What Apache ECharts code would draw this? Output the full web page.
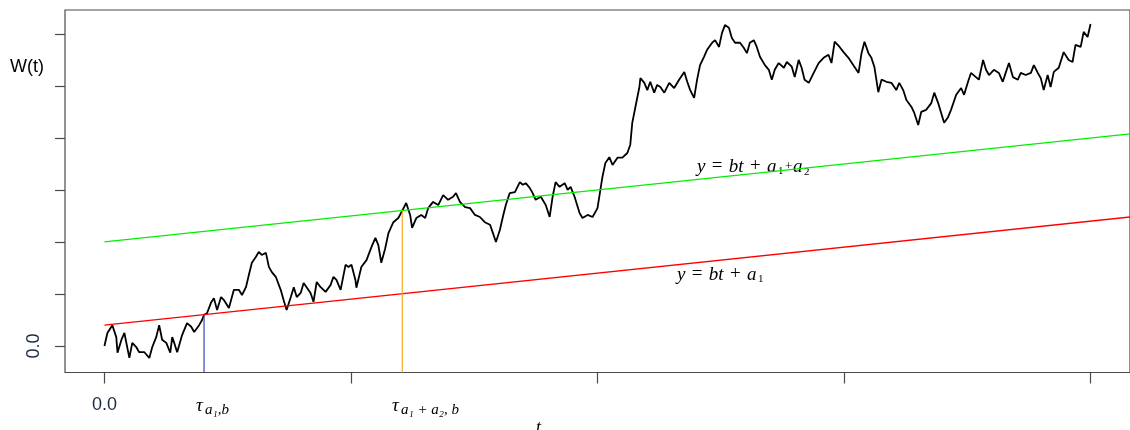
<!DOCTYPE html>
<html>
<head>
<meta charset="utf-8">
<script src="https://cdn.jsdelivr.net/npm/echarts@6/dist/echarts.min.js"></script>
<style>html,body{margin:0;padding:0;background:#fff;}#c{width:1130px;height:430px;}</style>
</head>
<body>
<div id="c"></div>
<script>
// Brownian path W(t)
const tVals = [0, 0.012, 0.032, 0.048, 0.053, 0.069, 0.081, 0.101, 0.113, 0.129, 0.141, 0.162, 0.182, 0.194, 0.210, 0.222, 0.234, 0.251, 0.267, 0.275, 0.283, 0.295, 0.315, 0.335, 0.352, 0.364, 0.384, 0.396, 0.404, 0.416, 0.432, 0.444, 0.457, 0.473, 0.485, 0.505, 0.525, 0.545, 0.558, 0.574, 0.586, 0.598, 0.614, 0.626, 0.638, 0.655, 0.667, 0.679, 0.695, 0.715, 0.727, 0.739, 0.756, 0.768, 0.780, 0.796, 0.808, 0.820, 0.836, 0.848, 0.861, 0.877, 0.897, 0.917, 0.929, 0.941, 0.958,
  0.978, 0.990, 1.002, 1.018, 1.022, 1.042, 1.063, 1.083, 1.099, 1.111, 1.123, 1.139, 1.152, 1.172, 1.192, 1.208, 1.224, 1.240, 1.248, 1.265, 1.285, 1.301, 1.313, 1.333, 1.354, 1.374, 1.394, 1.414, 1.426, 1.442, 1.463, 1.483, 1.503, 1.523, 1.543, 1.564, 1.576, 1.588, 1.604, 1.616, 1.628, 1.644, 1.665, 1.685, 1.697, 1.709, 1.725, 1.737, 1.749, 1.770, 1.790, 1.806, 1.818, 1.830, 1.846, 1.867, 1.879, 1.891, 1.907, 1.927, 1.939, 1.960, 1.980, 2.000,
  2.020, 2.032, 2.048, 2.061, 2.081, 2.101, 2.121, 2.133, 2.141, 2.154, 2.170, 2.174, 2.190, 2.202, 2.214, 2.230, 2.242, 2.255, 2.271, 2.291, 2.311, 2.331, 2.352, 2.364, 2.376, 2.392, 2.404, 2.416, 2.432, 2.444, 2.465, 2.477, 2.493, 2.505, 2.517, 2.533, 2.545, 2.558, 2.578, 2.594, 2.606, 2.618, 2.634, 2.646, 2.659, 2.679, 2.695, 2.707, 2.719, 2.735, 2.756, 2.768, 2.788, 2.800, 2.816, 2.828, 2.840, 2.857, 2.877, 2.897, 2.917, 2.937, 2.949, 2.962, 2.982, 2.998, 3.018,
  3.042, 3.059, 3.071, 3.083, 3.099, 3.111, 3.123, 3.139, 3.152, 3.172, 3.192, 3.212, 3.224, 3.240, 3.253, 3.273, 3.285, 3.301, 3.313, 3.333, 3.354, 3.366, 3.382, 3.394, 3.406, 3.422, 3.434, 3.455, 3.475, 3.487, 3.503, 3.515, 3.535, 3.547, 3.564, 3.576, 3.588, 3.608, 3.628, 3.644, 3.657, 3.669, 3.685, 3.705, 3.717, 3.737, 3.758, 3.770, 3.786, 3.798, 3.810, 3.826, 3.838, 3.851, 3.871, 3.891, 3.911, 3.927, 3.939, 3.960, 3.972, 3.988, 4.000];
const wVals = [0, 0.25, 0.40, 0.17, -0.13, 0.12, 0.25, -0.23, 0.06, -0.02, -0.12, -0.12, -0.23, -0.02, 0.17, 0.40, 0.12, 0.06, -0.13, 0.17, 0.06, -0.12, 0.21, 0.44, 0.37, 0.27, 0.40, 0.50, 0.60, 0.63, 0.83, 0.92, 0.69, 0.94, 0.88, 0.73, 1.08, 1.08, 0.98, 1.13, 1.37, 1.60, 1.71, 1.81, 1.75, 1.79, 1.52, 1.42, 1.33, 1.08, 0.88, 0.69, 0.94, 1.13, 0.94, 1.02, 1.21, 1.13, 1.02, 0.85, 1.23, 1.13, 1.04, 1.17, 1.33, 1.27, 1.08,
  1.56, 1.52, 1.56, 1.27, 1.12, 1.52, 1.65, 1.90, 2.08, 1.94, 1.60, 1.88, 2.17, 2.38, 2.46, 2.60, 2.75, 2.52, 2.27, 2.46, 2.52, 2.46, 2.65, 2.77, 2.71, 2.90, 2.81, 2.87, 2.94, 2.77, 2.67, 2.65, 2.52, 2.48, 2.38, 2.33, 2.17, 2.00, 2.23, 2.48, 2.71, 2.94, 2.96, 3.15, 3.10, 3.13, 3.04, 2.94, 2.81, 2.87, 2.71, 2.48, 2.87, 3.15, 3.06, 3.13, 3.00, 3.06, 2.87, 2.56, 2.46, 2.52, 2.48, 2.65,
  3.25, 3.52, 3.63, 3.48, 3.62, 3.62, 3.71, 3.87, 4.29, 4.60, 4.98, 5.15, 5.06, 4.92, 5.08, 4.87, 5.02, 4.98, 4.87, 5.06, 4.96, 5.12, 5.27, 5.08, 4.92, 4.77, 5.12, 5.40, 5.56, 5.69, 5.83, 5.88, 5.75, 6.02, 6.17, 6.12, 5.92, 5.83, 5.83, 5.73, 5.63, 5.83, 5.88, 5.75, 5.56, 5.40, 5.31, 5.12, 5.31, 5.44, 5.35, 5.46, 5.37, 5.17, 5.50, 5.35, 5.12, 5.06, 5.25, 5.44, 5.54, 5.60, 5.44, 5.85, 5.75, 5.65, 5.54,
  5.37, 5.25, 5.63, 5.85, 5.63, 5.54, 5.37, 4.88, 5.12, 5.08, 5.06, 4.92, 5.06, 4.92, 4.73, 4.60, 4.48, 4.25, 4.50, 4.54, 4.67, 4.87, 4.67, 4.48, 4.29, 4.40, 4.54, 4.83, 4.96, 4.83, 5.08, 5.25, 5.17, 5.12, 5.50, 5.31, 5.21, 5.31, 5.25, 5.08, 5.27, 5.44, 5.17, 5.12, 5.25, 5.21, 5.25, 5.40, 5.25, 5.15, 4.92, 5.21, 4.98, 5.27, 5.35, 5.65, 5.50, 5.46, 5.79, 5.75, 6.04, 5.94, 6.19];

// boundary lines y = b t + a
const slopeB = 0.5;
const levelA1 = 0.4;
const levelA1A2 = 2.0;
const lineT = [0, 4.3];
// hitting times
const tau1 = 0.404;
const tau2 = 1.208;
// axis ticks
const xTicks = [0, 1, 2, 3, 4];
const yTicks = [0, 1, 2, 3, 4, 5, 6];
const xLabelTicks = [0];
const yLabelTicks = [0];

const X_MIN = -0.16, X_MAX = 4.16, Y_MIN = -0.51, Y_MAX = 6.46;

const chart = echarts.init(document.getElementById('c'), null, {renderer: 'canvas'});
const path = tVals.map((t, i) => [t, wVals[i]]);
const redLine = lineT.map(t => [t, slopeB * t + levelA1]);
const greenLine = lineT.map(t => [t, slopeB * t + levelA1A2]);
const blueSeg = [[tau1, Y_MIN], [tau1, slopeB * tau1 + levelA1]];
const orangeSeg = [[tau2, Y_MIN], [tau2, slopeB * tau2 + levelA1A2]];

const serif = '"Liberation Serif", "DejaVu Serif", serif';
const sans = '"Liberation Sans", Arial, sans-serif';
const SP = '\u2004';

function lineSeries(data, color, width, z) {
  return {type: 'line', data, showSymbol: false, symbol: 'none', z,
    lineStyle: {color, width}, silent: true, animation: false};
}
function txt(x, y, text, font) {
  return {type: 'text', x, y, style: {text, font, fill: '#000'}};
}
const eqRich = {
  i: {fontFamily: serif, fontStyle: 'italic', fontSize: 19, color: '#000'},
  r: {fontFamily: serif, fontStyle: 'normal', fontSize: 19, color: '#000'}
};
function eq(x, y) {
  return {type: 'text', x, y, style: {
    text: '{i|y}{r|' + SP + '=' + SP + '}{i|bt}{r|' + SP + '+' + SP + '}{i|a}',
    rich: eqRich, fill: '#000'}};
}

chart.setOption({
  animation: false,
  backgroundColor: '#ffffff',
  grid: {left: 65, top: 10, right: -5, bottom: 57.5, show: true, borderColor: '#4a4a4a', borderWidth: 1.2, backgroundColor: 'transparent'},
  xAxis: {
    type: 'value', min: X_MIN, max: X_MAX,
    splitLine: {show: false}, axisLine: {show: false, onZero: false},
    axisTick: {show: true, customValues: xTicks, length: 11, inside: false, lineStyle: {color: '#4a4a4a', width: 1.2}},
    axisLabel: {customValues: xLabelTicks, formatter: v => v.toFixed(1), margin: 24, fontSize: 18, color: '#1b2a48', fontFamily: sans}
  },
  yAxis: {
    type: 'value', min: Y_MIN, max: Y_MAX,
    splitLine: {show: false}, axisLine: {show: false, onZero: false},
    axisTick: {show: true, customValues: yTicks, length: 10, inside: false, lineStyle: {color: '#4a4a4a', width: 1.2}},
    axisLabel: {customValues: yLabelTicks, formatter: v => v.toFixed(1), margin: 22, rotate: 90, fontSize: 18, color: '#1b2a48', fontFamily: sans}
  },
  series: [
    lineSeries(path, '#000000', 1.8, 2),
    lineSeries(redLine, '#ff0000', 1.3, 3),
    lineSeries(greenLine, '#00ee00', 1.3, 3),
    lineSeries(blueSeg, '#3347c4', 1.2, 4),
    lineSeries(orangeSeg, '#f5ad2a', 1.2, 4)
  ],
  graphic: [
    {type: 'text', left: 10, top: 58, style: {text: 'W(t)', font: '18px ' + sans, fill: '#000'}},
    txt(536, 419, 't', 'italic 18px ' + serif),
    // tau labels
    txt(196, 396, 'τ', 'italic 19px ' + serif),
    txt(205, 403, 'a₁,b', 'italic 15px ' + serif),
    txt(392, 396, 'τ', 'italic 19px ' + serif),
    txt(401, 403, 'a₁ + a₂, b', 'italic 15px ' + serif),
    // line labels
    eq(697, 157),
    txt(778, 166, '1', '11px ' + serif),
    txt(785, 160, '+', '13px ' + serif),
    txt(793, 157, 'a', 'italic 19px ' + serif),
    txt(804, 167, '2', '11px ' + serif),
    eq(677, 265),
    txt(758, 274, '1', '11px ' + serif)
  ]
});
</script>
</body>
</html>
